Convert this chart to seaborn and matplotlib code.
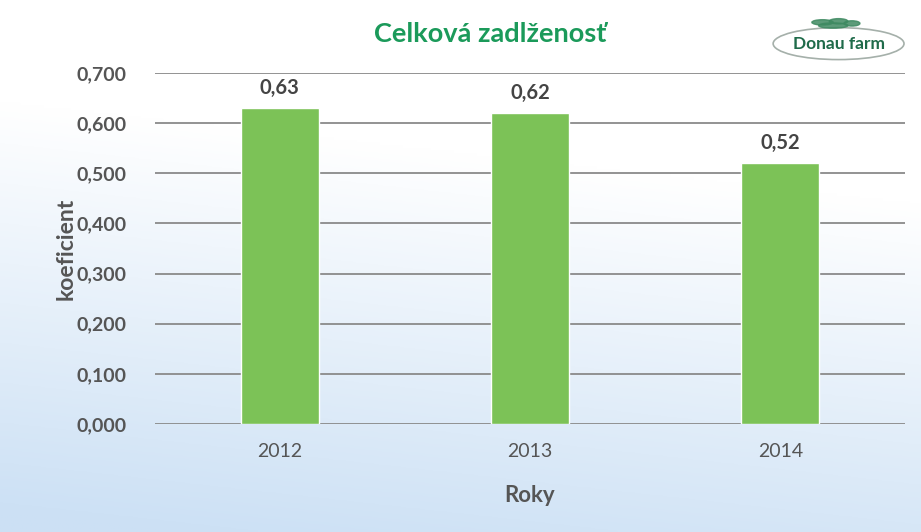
import numpy as np
import pandas as pd
import matplotlib.pyplot as plt
import matplotlib.patches as mpatches
import seaborn as sns

# data
years = ['2012', '2013', '2014']
values = [0.63, 0.62, 0.52]
labels = ['0,63', '0,62', '0,52']
yticks = [0.0, 0.1, 0.2, 0.3, 0.4, 0.5, 0.6, 0.7]

sns.set_style('white')
plt.rcParams['font.family'] = ['Lato', 'DejaVu Sans']

df = pd.DataFrame({'rok': years, 'koef': values})

fig = plt.figure(figsize=(9.21, 5.32), dpi=100)

# soft blue gradient in the background (white at top, light blue at bottom-left)
bg = fig.add_axes([0, 0, 1, 1], zorder=-10)
yy, xx = np.mgrid[0:1:200j, 0:1:200j]
t = np.clip(yy * 1.3 - 0.25 - xx * 0.25, 0, 1)
top = np.array([1.0, 1.0, 1.0])
bot = np.array([0.80, 0.88, 0.96])
img = top * (1 - t[..., None]) + bot * t[..., None]
bg.imshow(img, aspect='auto', extent=[0, 1, 0, 1], origin='upper')
bg.axis('off')

ax = fig.add_axes([0.168, 0.203, 0.815, 0.66])
ax.patch.set_alpha(0)
sns.barplot(ax=ax, data=df, x='rok', y='koef', color='#7cc257', width=0.31,
            saturation=1, zorder=3)

ax.set_ylim(0, 0.7)
ax.set_xlim(-0.5, 2.5)
ax.set_yticks(yticks)
ax.set_yticklabels([f'{v:.3f}'.replace('.', ',') for v in yticks])
ax.yaxis.grid(True, color='#8a8a8a', linewidth=1.3, zorder=0)
ax.set_axisbelow(True)
for s in ax.spines.values():
    s.set_visible(False)
ax.tick_params(axis='both', length=0, labelsize=14, colors='#555555')
ax.tick_params(axis='y', pad=20)
ax.tick_params(axis='x', pad=14)
for tl in ax.get_yticklabels():
    tl.set_fontweight('bold')

for i, (v, lab) in enumerate(zip(values, labels)):
    ax.text(i, v + 0.02, lab, ha='center', va='bottom', fontsize=14.5,
            fontweight='bold', color='#444444')

ax.set_xlabel('Roky', fontsize=16, fontweight='bold', color='#555555', labelpad=18)
ax.set_ylabel('koeficient', fontsize=16.5, fontweight='bold', color='#555555', labelpad=0)

fig.text(0.532, 0.937, 'Celková zadlženosť', ha='center', va='center', fontsize=19.5,
         fontweight='bold', color='#1b9a5a')

# small "Donau farm" logo in the upper right corner
logo = fig.add_axes([0.838, 0.88, 0.145, 0.1])
logo.set_xlim(0, 1)
logo.set_ylim(0, 1)
logo.axis('off')
logo.add_patch(mpatches.Ellipse((0.5, 0.38), 0.98, 0.6, fill=False,
                                edgecolor='#a5b0aa', linewidth=1.2))
logo.text(0.5, 0.37, 'Donau farm', ha='center', va='center', fontsize=12.5,
          fontweight='bold', color='#1f6b4a')
# little leaf cluster above the text
for cx, cy, w in [(0.38, 0.78, 0.16), (0.5, 0.8, 0.14), (0.6, 0.76, 0.12), (0.46, 0.72, 0.22)]:
    logo.add_patch(mpatches.Ellipse((cx, cy), w, 0.1, color='#3f8a62', alpha=0.85))

fig.savefig('out.png', dpi=100)
